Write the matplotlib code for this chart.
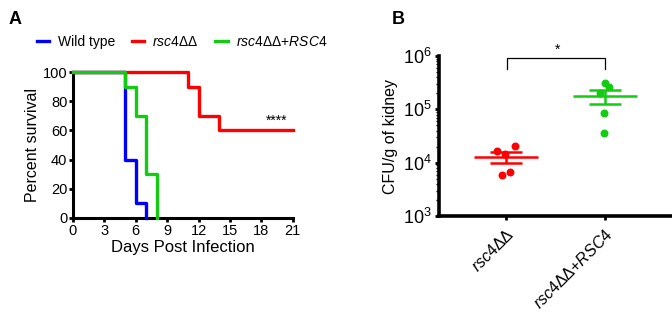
import numpy as np
import matplotlib
matplotlib.use("Agg")
from matplotlib import pyplot as plt

plt.rcParams['font.family'] = ['Liberation Sans', 'DejaVu Sans']
plt.rcParams['mathtext.fontset'] = 'custom'
plt.rcParams['mathtext.rm'] = 'Liberation Sans'
plt.rcParams['mathtext.it'] = 'Liberation Sans:italic'

# Panel A: survival curves (day, percent) step points
wt_days = [0, 5, 6, 7]
wt_surv = [100, 40, 10, 0]
mut_days = [0, 11, 12, 14, 21]
mut_surv = [100, 90, 70, 60, 60]
comp_days = [0, 5, 6, 7, 8]
comp_surv = [100, 90, 70, 30, 0]
series_labels = ['Wild type', r'$rsc4\Delta\Delta$', r'$rsc4\Delta\Delta$+$RSC4$']
series_colors = ['#0000ff', '#ff0000', '#11cc11']

# Panel B: CFU per gram of kidney
groups = [r'$rsc4\Delta\Delta$', r'$rsc4\Delta\Delta$+$RSC4$']
cfu_mut = [2.1e4, 1.66e4, 1.45e4, 5.9e3, 6.8e3]
cfu_comp = [3.1e5, 2.6e5, 2.0e5, 8.5e4, 3.6e4]
jitter_mut = [0.09, -0.09, -0.01, -0.04, 0.04]
jitter_comp = [0.0, 0.04, -0.05, -0.01, -0.01]

fig = plt.figure(figsize=(6.72, 3.15), dpi=100)

# ---- Panel A ----
axA = fig.add_axes([0.1086, 0.308, 0.327, 0.463])
for days, surv, col, lab in zip([wt_days, mut_days, comp_days],
                                [wt_surv, mut_surv, comp_surv],
                                series_colors, series_labels):
    axA.step(days, surv, where='post', color=col, lw=2.4, label=lab,
             clip_on=False, zorder=3)
axA.set_xlim(0, 21)
axA.set_ylim(0, 100)
axA.set_xticks(np.arange(0, 22, 3))
axA.set_yticks(np.arange(0, 101, 20))
axA.set_xlabel('Days Post Infection', fontsize=12, labelpad=2)
axA.set_ylabel('Percent survival', fontsize=11.5, labelpad=2)
for s in ['top', 'right']:
    axA.spines[s].set_visible(False)
for s in ['left', 'bottom']:
    axA.spines[s].set_linewidth(2.2)
axA.tick_params(width=2, length=3, labelsize=10.5, pad=1)
axA.text(19.5, 62, '****', ha='center', va='bottom', fontsize=10)
axA.legend(loc='lower left', bbox_to_anchor=(-0.19, 1.12), ncol=3, frameon=False,
           handlelength=0.9, handletextpad=0.6, columnspacing=1.2, fontsize=10,
           borderaxespad=0)
fig.text(0.012, 0.965, 'A', fontsize=13, fontweight='bold', va='top')

# ---- Panel B ----
axB = fig.add_axes([0.653, 0.314, 0.347, 0.508])
for i, (vals, jit, col) in enumerate(zip([cfu_mut, cfu_comp], [jitter_mut, jitter_comp],
                                         series_colors[1:])):
    xc = i + 1
    vals = np.array(vals)
    m = vals.mean()
    sem = vals.std(ddof=1) / np.sqrt(len(vals))
    axB.scatter(xc + np.array(jit), vals, s=22, color=col, zorder=3)
    axB.hlines(m, xc - 0.32, xc + 0.32, color=col, lw=1.8)
    axB.hlines([m - sem, m + sem], xc - 0.16, xc + 0.16, color=col, lw=1.8)
    axB.vlines(xc, m - sem, m + sem, color=col, lw=1.8)

axB.set_yscale('log')
axB.set_ylim(1e3, 1e6)
axB.set_xlim(0.323, 2.677)
axB.set_yticks([1e3, 1e4, 1e5, 1e6])
axB.set_yticklabels([r'$10^{3}$', r'$10^{4}$', r'$10^{5}$', r'$10^{6}$'])
axB.set_xticks([1, 2])
axB.set_xticklabels(groups, rotation=45, ha='right', rotation_mode='anchor')
axB.set_ylabel('CFU/g of kidney', fontsize=11.5, labelpad=4)
for s in ['top', 'right']:
    axB.spines[s].set_visible(False)
for s in ['left', 'bottom']:
    axB.spines[s].set_linewidth(2.6)
axB.tick_params(axis='y', which='major', width=2, length=3, labelsize=13, pad=2)
axB.tick_params(axis='y', which='minor', width=1, length=2)
axB.tick_params(axis='x', width=2, length=3, labelsize=11.5, pad=4)

# significance bracket
axB.plot([1.01, 1.01, 2.0, 2.0], [5.7e5, 9.2e5, 9.2e5, 5.7e5], color='black', lw=0.9,
         clip_on=False)
axB.text(1.52, 9.6e5, '*', ha='center', va='bottom', fontsize=10)
fig.text(0.583, 0.965, 'B', fontsize=13, fontweight='bold', va='top')

fig.savefig('out.png', dpi=100)
